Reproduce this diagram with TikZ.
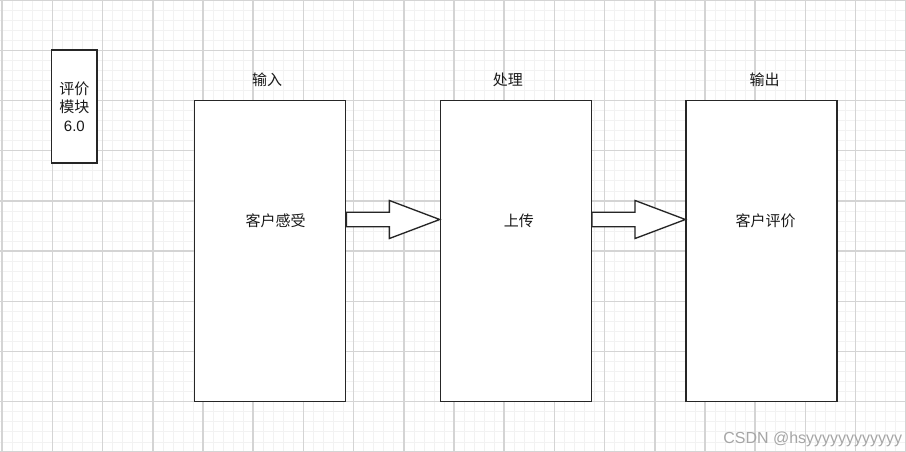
\documentclass[tikz,border=0pt]{standalone}
\usepackage{fontspec}
\setmainfont{Liberation Sans}
\newfontfamily\cjk{Noto Sans CJK SC}
\usepackage{tikz}
\usetikzlibrary{
    positioning,
    calc
}

\begin{document}
\begin{tikzpicture}[
    x=0.75pt,
    y=-0.75pt,
    node distance=70pt,
    minorgrid/.style={
        draw=black!5,
        line width=0.5pt
    },
    majorgrid/.style={
        draw=black!17,
        line width=1.1pt
    },
    stage/.style={
        rectangle,
        draw=black!85,
        line width=1pt,
        fill=white,
        minimum width=113.25pt,
        minimum height=225.75pt,
        inner sep=0pt
    },
    module/.style={
        rectangle,
        draw=black!85,
        line width=1pt,
        fill=white,
        align=center,
        minimum width=34pt,
        minimum height=84.75pt,
        inner sep=0pt,
        text=black!90,
        font=\fontsize{11.25}{13.9}\selectfont
    },
    caption/.style={
        inner sep=0pt,
        text=black!90,
        font=\cjk\fontsize{11.25}{13.5}\selectfont
    },
    blockarrow/.style={
        draw=black!85,
        line width=1pt,
        fill=white,
        line join=miter
    }
]

% ============================================================
% BACKGROUND GRID
% ============================================================

\useasboundingbox (0,0) rectangle (906,452);
\fill[white] (0,0) rectangle (906,452);
\begin{scope}
\clip (0,0) rectangle (906,452);
\foreach \i in {0,...,90}
    \draw[minorgrid] ({2.2+10.04*\i},0) -- ({2.2+10.04*\i},452);
\foreach \i in {0,...,45}
    \draw[minorgrid] (0,{0.1+10.04*\i}) -- (906,{0.1+10.04*\i});
\foreach \i in {0,...,18}
    \draw[majorgrid] ({2.2+50.2*\i},0) -- ({2.2+50.2*\i},452);
\foreach \i in {0,...,9}
    \draw[majorgrid] (0,{0.1+50.2*\i}) -- (906,{0.1+50.2*\i});
\end{scope}

% ============================================================
% MODULE
% ============================================================

\node[module] (module) at (74.35,106.5)
{
{\cjk 评价}\\
{\cjk 模块}\\
6.0
};

% ============================================================
% STAGES
% ============================================================

\node[stage] (input) at (270.2,251.2) {};
\node[stage, right=of input] (process) {};
\node[stage, right=of process] (output) {};

\node[caption, above=9.75pt of input, xshift=-2.25pt] (inputlabel) {输入};
\node[caption, above=9.75pt of process, xshift=-6pt] (processlabel) {处理};
\node[caption, above=9.75pt of output, xshift=2.25pt] (outputlabel) {输出};

\node[caption] (inputtext) at ($(input)+(5.3,-30.5)$) {客户感受};
\node[caption] (processtext) at ($(process)+(3,-30.5)$) {上传};
\node[caption] (outputtext) at ($(output)+(4,-30.5)$) {客户评价};

% ============================================================
% CONNECTIONS
% ============================================================

\coordinate (a1s) at ($(input.east)+(0,-31.7)$);
\coordinate (a1e) at ($(process.west)+(0,-31.7)$);
\coordinate (a2s) at ($(process.east)+(0,-31.7)$);
\coordinate (a2e) at ($(output.west)+(0,-31.7)$);

\draw[blockarrow] ($(a1s)+(0,-7.2)$) -- ($(a1e)+(-50.3,-7.2)$)
    -- ($(a1e)+(-50.3,-19)$) -- (a1e) -- ($(a1e)+(-50.3,19)$)
    -- ($(a1e)+(-50.3,7.2)$) -- ($(a1s)+(0,7.2)$) -- cycle;
\draw[blockarrow] ($(a2s)+(0,-7.2)$) -- ($(a2e)+(-50.3,-7.2)$)
    -- ($(a2e)+(-50.3,-19)$) -- (a2e) -- ($(a2e)+(-50.3,19)$)
    -- ($(a2e)+(-50.3,7.2)$) -- ($(a2s)+(0,7.2)$) -- cycle;

% ============================================================
% WATERMARK
% ============================================================

\node[anchor=base west, inner sep=0pt, text=black!35,
      font=\fontsize{12}{12}\selectfont] (watermark) at (723,443.3)
{CSDN @hsyyyyyyyyyyyy};

\end{tikzpicture}
\end{document}
